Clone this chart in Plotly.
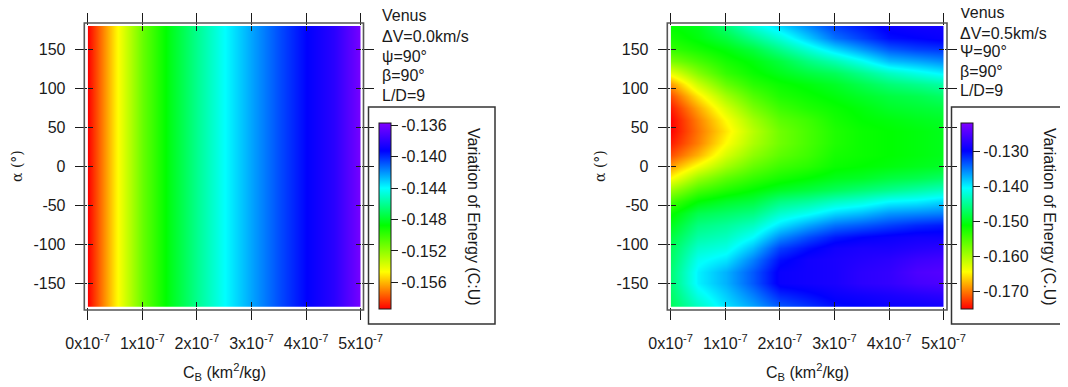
import plotly.graph_objects as go

# ---------------- data ----------------
cb_values = [0.0, 0.5e-7, 1.0e-7, 1.5e-7, 2.0e-7, 2.5e-7, 3.0e-7, 3.5e-7, 4.0e-7, 4.5e-7, 5.0e-7]

# Left panel (dV = 0.0 km/s): energy depends only on C_B
alpha_left = [-180, 180]
energy_dv00 = [-0.1594, -0.1551, -0.1511, -0.1483, -0.1461, -0.1440,
               -0.1423, -0.1407, -0.1393, -0.1381, -0.1359]

# Right panel (dV = 0.5 km/s): rows follow alpha_right, columns follow cb_values
alpha_right = [-180, -165, -150, -135, -120, -105, -90, -75, -60, -45, -30, -15,
               0, 15, 30, 45, 60, 75, 90, 105, 120, 135, 150, 165, 180]
energy_dv05 = [
    [-0.1475, -0.1432, -0.1395, -0.1369, -0.1337, -0.1321, -0.1305, -0.1300, -0.1294, -0.1294, -0.1289],  # -180
    [-0.1470, -0.1416, -0.1385, -0.1353, -0.1316, -0.1305, -0.1294, -0.1289, -0.1284, -0.1278, -0.1273],  # -165
    [-0.1464, -0.1401, -0.1374, -0.1337, -0.1294, -0.1289, -0.1284, -0.1273, -0.1268, -0.1257, -0.1252],  # -150
    [-0.1464, -0.1401, -0.1374, -0.1337, -0.1294, -0.1289, -0.1284, -0.1273, -0.1268, -0.1252, -0.1247],  # -135
    [-0.1470, -0.1411, -0.1395, -0.1353, -0.1305, -0.1289, -0.1284, -0.1278, -0.1273, -0.1262, -0.1257],  # -120
    [-0.1475, -0.1427, -0.1416, -0.1379, -0.1326, -0.1305, -0.1289, -0.1284, -0.1284, -0.1278, -0.1273],  # -105
    [-0.1486, -0.1443, -0.1432, -0.1406, -0.1358, -0.1331, -0.1310, -0.1300, -0.1294, -0.1289, -0.1289],  # -90
    [-0.1501, -0.1459, -0.1448, -0.1432, -0.1395, -0.1369, -0.1347, -0.1337, -0.1326, -0.1316, -0.1310],  # -75
    [-0.1517, -0.1480, -0.1470, -0.1459, -0.1427, -0.1411, -0.1390, -0.1379, -0.1363, -0.1358, -0.1353],  # -60
    [-0.1549, -0.1512, -0.1496, -0.1486, -0.1459, -0.1448, -0.1432, -0.1422, -0.1406, -0.1401, -0.1390],  # -45
    [-0.1592, -0.1549, -0.1528, -0.1512, -0.1496, -0.1486, -0.1475, -0.1464, -0.1454, -0.1443, -0.1432],  # -30
    [-0.1645, -0.1592, -0.1560, -0.1539, -0.1523, -0.1512, -0.1501, -0.1496, -0.1486, -0.1480, -0.1470],  # -15
    [-0.1687, -0.1640, -0.1597, -0.1565, -0.1544, -0.1533, -0.1517, -0.1512, -0.1507, -0.1501, -0.1496],  # 0
    [-0.1719, -0.1677, -0.1624, -0.1586, -0.1560, -0.1544, -0.1523, -0.1517, -0.1512, -0.1507, -0.1501],  # 15
    [-0.1740, -0.1698, -0.1645, -0.1602, -0.1570, -0.1549, -0.1528, -0.1517, -0.1512, -0.1507, -0.1501],  # 30
    [-0.1751, -0.1703, -0.1655, -0.1608, -0.1570, -0.1549, -0.1528, -0.1517, -0.1512, -0.1507, -0.1501],  # 45
    [-0.1751, -0.1698, -0.1645, -0.1597, -0.1560, -0.1544, -0.1523, -0.1512, -0.1507, -0.1501, -0.1496],  # 60
    [-0.1740, -0.1682, -0.1624, -0.1576, -0.1544, -0.1528, -0.1517, -0.1507, -0.1496, -0.1491, -0.1486],  # 75
    [-0.1719, -0.1655, -0.1597, -0.1555, -0.1528, -0.1517, -0.1507, -0.1496, -0.1486, -0.1480, -0.1470],  # 90
    [-0.1687, -0.1618, -0.1565, -0.1533, -0.1517, -0.1507, -0.1496, -0.1480, -0.1464, -0.1454, -0.1443],  # 105
    [-0.1634, -0.1581, -0.1539, -0.1517, -0.1501, -0.1486, -0.1475, -0.1454, -0.1432, -0.1416, -0.1401],  # 120
    [-0.1576, -0.1549, -0.1523, -0.1507, -0.1486, -0.1459, -0.1438, -0.1411, -0.1379, -0.1369, -0.1358],  # 135
    [-0.1539, -0.1523, -0.1507, -0.1486, -0.1454, -0.1422, -0.1390, -0.1363, -0.1337, -0.1326, -0.1321],  # 150
    [-0.1523, -0.1507, -0.1486, -0.1454, -0.1422, -0.1385, -0.1347, -0.1326, -0.1305, -0.1300, -0.1294],  # 165
    [-0.1512, -0.1501, -0.1464, -0.1422, -0.1390, -0.1358, -0.1326, -0.1310, -0.1294, -0.1289, -0.1289],  # 180
]

x_tickvals = [0.0, 1e-7, 2e-7, 3e-7, 4e-7, 5e-7]
x_ticktext = ["0x10<sup>-7</sup>", "1x10<sup>-7</sup>", "2x10<sup>-7</sup>",
              "3x10<sup>-7</sup>", "4x10<sup>-7</sup>", "5x10<sup>-7</sup>"]
y_tickvals = [-150, -100, -50, 0, 50, 100, 150]
y_ticktext = ["-150", "-100", "-50", "0", "50", "100", "150"]

cbar_left_vals = [-0.136, -0.140, -0.144, -0.148, -0.152, -0.156]
cbar_left_text = ["-0.136", "-0.140", "-0.144", "-0.148", "-0.152", "-0.156"]
cbar_left_range = (-0.1594, -0.1357)

cbar_right_vals = [-0.130, -0.140, -0.150, -0.160, -0.170]
cbar_right_text = ["-0.130", "-0.140", "-0.150", "-0.160", "-0.170"]
cbar_right_range = (-0.1751, -0.1220)

left_info = ["Venus", "ΔV=0.0km/s", "ψ=90°", "β=90°", "L/D=9"]
right_info = ["Venus", "ΔV=0.5km/s", "Ψ=90°", "β=90°", "L/D=9"]

# ---------------- styling / layout ----------------
OFF = 8                      # page body margin of the browser
W, H = 1068 - OFF, 387 - OFF
FONT = "Liberation Sans, Arial, sans-serif"
INK = "#1a1a1a"
FS = 16


def px(x):
    return (x - OFF) / W


def py(y):
    return 1 - (y - OFF) / H


rainbow = [
    [0.00, "rgb(255,0,0)"],
    [0.10, "rgb(255,128,0)"],
    [0.20, "rgb(255,255,0)"],
    [0.45, "rgb(0,255,0)"],
    [0.65, "rgb(0,255,255)"],
    [0.85, "rgb(0,0,255)"],
    [1.00, "rgb(128,0,255)"],
]

z_left = [list(energy_dv00) for _ in alpha_left]


def cbar(xpos, vals, texts):
    return dict(
        x=px(xpos), xanchor="left", xpad=0, ypad=0,
        y=py(309), yanchor="bottom", len=186, lenmode="pixels",
        thickness=12, thicknessmode="pixels",
        outlinewidth=1, outlinecolor=INK, borderwidth=0,
        ticks="outside", ticklen=7, tickwidth=1, tickcolor=INK,
        tickvals=vals, ticktext=texts,
        tickfont=dict(family=FONT, size=FS, color=INK),
    )


fig = go.Figure()
fig.add_trace(go.Heatmap(
    x=cb_values, y=alpha_left, z=z_left, zsmooth="best",
    zmin=cbar_left_range[0], zmax=cbar_left_range[1], colorscale=rainbow,
    colorbar=cbar(379, cbar_left_vals, cbar_left_text),
    xaxis="x", yaxis="y", hoverinfo="skip",
))
fig.add_trace(go.Heatmap(
    x=cb_values, y=alpha_right, z=energy_dv05, zsmooth="best",
    zmin=cbar_right_range[0], zmax=cbar_right_range[1], colorscale=rainbow,
    colorbar=cbar(961, cbar_right_vals, cbar_right_text),
    xaxis="x2", yaxis="y2", hoverinfo="skip",
))
# empty traces that activate the overlay axes carrying the inner half of the ticks
fig.add_trace(go.Scatter(x=[], y=[], xaxis="x3", yaxis="y3", showlegend=False))
fig.add_trace(go.Scatter(x=[], y=[], xaxis="x4", yaxis="y4", showlegend=False))

tickfont = dict(family=FONT, size=FS, color=INK)


def xax(dom, anchor, outside=True, overlay=None):
    d = dict(domain=dom, anchor=anchor, range=[0, 5e-7], tickvals=x_tickvals,
             showgrid=False, zeroline=False, showline=False, mirror="ticks",
             tickcolor=INK, tickwidth=1.2, fixedrange=True)
    if outside:
        d.update(ticks="outside", ticklen=12, ticktext=x_ticktext, tickfont=tickfont,
                 ticklabelstandoff=10)
    else:
        d.update(ticks="inside", ticklen=5, showticklabels=False, overlaying=overlay)
    return d


def yax(anchor, outside=True, overlay=None):
    d = dict(domain=[py(306.7), py(26)], anchor=anchor, range=[-180, 180],
             tickvals=y_tickvals, showgrid=False, zeroline=False, showline=False,
             mirror="ticks", tickcolor=INK, tickwidth=1.2, fixedrange=True)
    if outside:
        d.update(ticks="outside", ticklen=12, ticktext=y_ticktext, tickfont=tickfont,
                 ticklabelstandoff=6)
    else:
        d.update(ticks="inside", ticklen=5, showticklabels=False, overlaying=overlay)
    return d


ldom = [px(87.7), px(360.7)]
rdom = [px(670.7), px(943.7)]

shapes = []
annotations = []

for (fx0, fx1, bx0, bx1) in [(84.3, 363.5, 368.5, 495), (667.3, 947, 951.5, 1090)]:
    shapes.append(dict(type="rect", xref="paper", yref="paper",
                       x0=px(fx0), x1=px(fx1), y0=py(310), y1=py(23),
                       line=dict(color="#555555", width=1.6), layer="above"))
    shapes.append(dict(type="rect", xref="paper", yref="paper",
                       x0=px(bx0), x1=px(bx1), y0=py(324), y1=py(107),
                       line=dict(color="#333333", width=1.5), layer="above"))

for lines, x0, ys in [(left_info, 380, [16, 36, 56, 76, 95]),
                      (right_info, 958, [13, 33, 52, 71, 91])]:
    for t, yy in zip(lines, ys):
        annotations.append(dict(text=t, xref="paper", yref="paper", x=px(x0), y=py(yy),
                                xanchor="left", yanchor="middle", showarrow=False,
                                font=dict(family=FONT, size=FS, color=INK)))

for xc, cbx, cbt in [(224, 474, "Variation of Energy (C:U)"),
                     (807, 1050, "Variation of Energy (C.U)")]:
    annotations.append(dict(text="C<sub>B</sub> (km<sup>2</sup>/kg)", xref="paper", yref="paper",
                            x=px(xc), y=py(372), xanchor="center", yanchor="middle",
                            showarrow=False, font=dict(family=FONT, size=FS, color=INK)))
    annotations.append(dict(text=cbt, xref="paper", yref="paper", x=px(cbx), y=py(217),
                            xanchor="center", yanchor="middle", textangle=90,
                            showarrow=False, font=dict(family=FONT, size=16, color=INK)))

for xc in [17, 600]:
    annotations.append(dict(text="α (°)", xref="paper", yref="paper", x=px(xc), y=py(166),
                            xanchor="center", yanchor="middle", textangle=-90,
                            showarrow=False,
                            font=dict(family="DejaVu Serif, serif", size=14, color=INK)))

fig.update_layout(
    width=W, height=H,
    margin=dict(l=0, r=0, t=0, b=0, autoexpand=False),
    paper_bgcolor="white", plot_bgcolor="white",
    showlegend=False,
    xaxis=xax(ldom, "y"),
    yaxis=yax("x"),
    xaxis2=xax(rdom, "y2"),
    yaxis2=yax("x2"),
    xaxis3=xax(ldom, "y3", outside=False, overlay="x"),
    yaxis3=yax("x3", outside=False, overlay="y"),
    xaxis4=xax(rdom, "y4", outside=False, overlay="x2"),
    yaxis4=yax("x4", outside=False, overlay="y2"),
    shapes=shapes,
    annotations=annotations,
)

# keep the page free of scrollbars so the right edge is not covered
fig.write_html("out.html",
               post_script="document.documentElement.style.overflow='hidden';"
                           "document.body.style.overflow='hidden';")
